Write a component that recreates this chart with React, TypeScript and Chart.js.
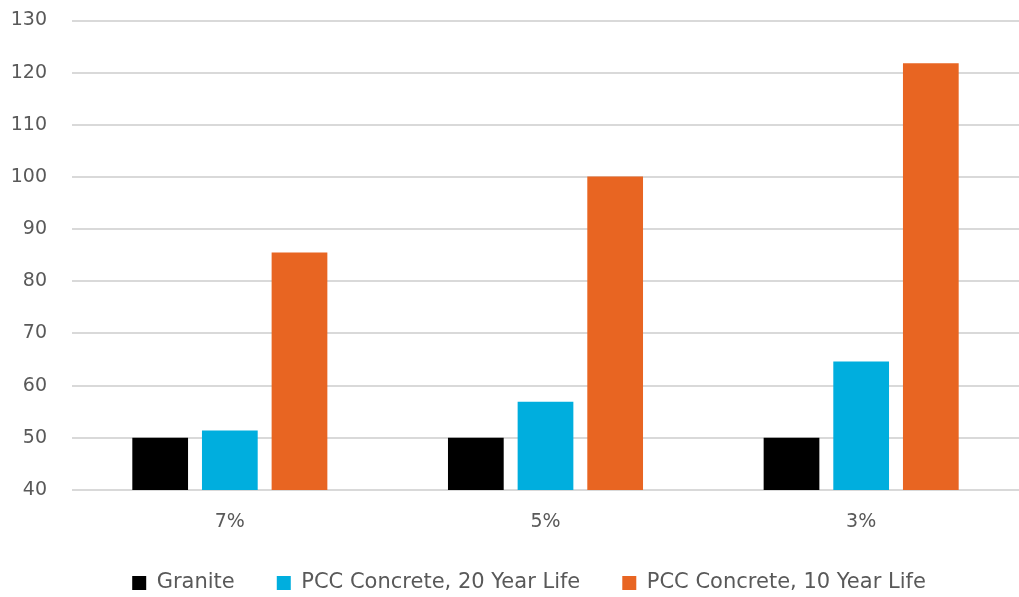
import React, { useEffect, useRef } from "react";
import { Chart, registerables } from "chart.js";

Chart.register(...registerables);

const categories = ["7%", "5%", "3%"];
const granite = [50, 50, 50];
const pcc20 = [51.4, 56.9, 64.6];
const pcc10 = [85.5, 100.1, 121.8];
const seriesNames = ["Granite", "PCC Concrete, 20 Year Life", "PCC Concrete, 10 Year Life"];
const yMin = 40;
const yMax = 130;
const yStep = 10;

const FONT = "'DejaVu Sans', 'Liberation Sans', sans-serif";
const FS = 19;
const LEGEND_FS = 21;

const legendShift = {
  id: "legendShift",
  afterLayout(chart: any) {
    const l = chart.legend;
    if (l) {
      l.left += 10;
      l.right += 10;
    }
  },
};

export default function App() {
  const ref = useRef<HTMLCanvasElement | null>(null);
  useEffect(() => {
    if (!ref.current) return;
    const chart = new Chart(ref.current, {
      type: "bar",
      data: {
        labels: categories,
        datasets: [
          { label: seriesNames[0], data: granite, backgroundColor: "#000000" },
          { label: seriesNames[1], data: pcc20, backgroundColor: "#00AEDE" },
          { label: seriesNames[2], data: pcc10, backgroundColor: "#E86522" },
        ],
      },
      plugins: [legendShift],
      options: {
        animation: false,
        responsive: false,
        maintainAspectRatio: false,
        layout: { padding: { top: 20.5, right: -9, left: 10, bottom: -6.5 } },
        datasets: { bar: { categoryPercentage: 0.662, barPercentage: 0.8 } },
        plugins: {
          legend: {
            position: "bottom",
            labels: {
              boxWidth: 14,
              boxHeight: 14,
              padding: 42,
              color: "#595959",
              font: { family: FONT, size: LEGEND_FS },
            },
          },
          tooltip: { enabled: false },
        },
        scales: {
          x: {
            grid: { display: false, drawTicks: true, tickLength: 23.5 },
            border: { display: false },
            ticks: { color: "#595959", font: { family: FONT, size: FS, lineHeight: 0.9 }, padding: 0 },
          },
          y: {
            min: yMin,
            max: yMax,
            border: { display: false },
            grid: { color: "#D9D9D9", lineWidth: 2, drawTicks: true, tickLength: 25, tickColor: "rgba(0,0,0,0)" },
            ticks: {
              stepSize: yStep,
              color: "#595959",
              font: { family: FONT, size: FS },
              padding: 0,
            },
            afterFit: (scale: any) => {
              scale.width = 62;
            },
          },
        },
      },
    });
    return () => chart.destroy();
  }, []);
  return (
    <div style={{ position: "fixed", left: 0, top: 0, width: 1019, height: 597, background: "#fff" }}>
      <canvas ref={ref} width={1019} height={597} />
    </div>
  );
}
